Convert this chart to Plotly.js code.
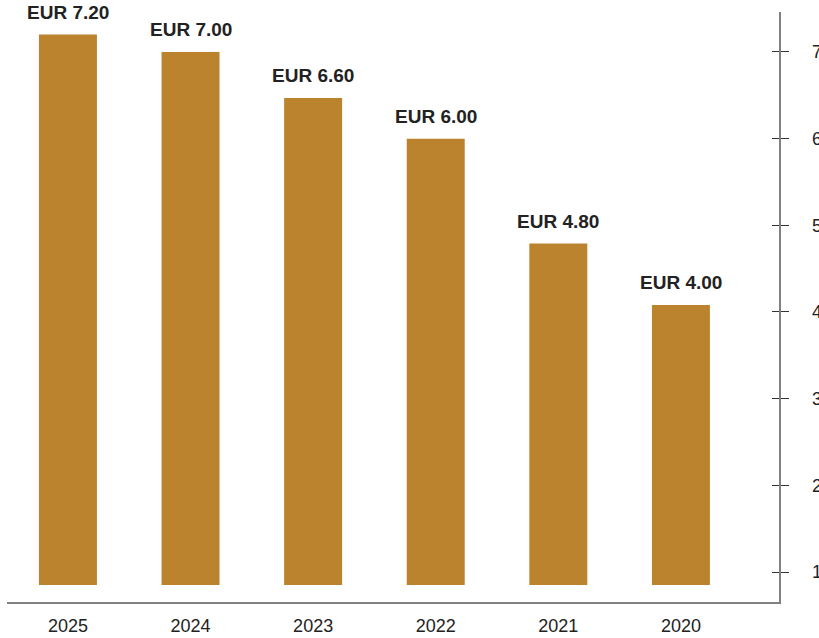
<!DOCTYPE html>
<html>
<head>
<meta charset="utf-8">
<script src="https://cdn.plot.ly/plotly-3.0.1.min.js"></script>
<style>html,body{margin:0;padding:0;background:#fff;}#chart{width:819px;height:638px;}</style>
</head>
<body>
<div id="chart"></div>
<script>
const years = ['2025', '2024', '2023', '2022', '2021', '2020'];
const barValues = [7.2, 7.0, 6.47, 6.0, 4.79, 4.08];
const barLabels = ['EUR 7.20', 'EUR 7.00', 'EUR 6.60', 'EUR 6.00', 'EUR 4.80', 'EUR 4.00'];
const barBase = 0.85;
const yTicks = [1, 2, 3, 4, 5, 6, 7];

const barColor = '#BC832E';
const font = 'Liberation Sans, Arial, sans-serif';

const trace = {
  type: 'bar',
  x: years,
  y: barValues.map(v => v - barBase),
  base: barBase,
  marker: {color: barColor},
  hoverinfo: 'skip'
};

const tickHelper = {
  type: 'scatter',
  mode: 'markers',
  x: years,
  y: barValues,
  yaxis: 'y2',
  marker: {size: 1, opacity: 0},
  hoverinfo: 'skip',
  showlegend: false
};

// category axis: annotation x given as the category's serial index
const annotations = years.map((yr, i) => ({
  x: i,
  y: barValues[i],
  xref: 'x',
  yref: 'y',
  text: '<b>' + barLabels[i] + '</b>',
  showarrow: false,
  yanchor: 'bottom',
  yshift: 10,
  font: {family: font, size: 19, color: '#222222'}
}));

const layout = {
  width: 819,
  height: 638,
  margin: {l: 7, r: 40, t: 12, b: 36},
  paper_bgcolor: '#ffffff',
  plot_bgcolor: '#ffffff',
  showlegend: false,
  bargap: 0.527,
  font: {family: font, color: '#222222', size: 18},
  xaxis: {
    type: 'category',
    range: [-0.497, 5.8],
    showgrid: false,
    zeroline: false,
    showline: true,
    linecolor: '#808080',
    linewidth: 1.5,
    ticks: '',
    ticklabelstandoff: 7,
    tickfont: {family: font, size: 18, color: '#222222'},
    fixedrange: true
  },
  yaxis: {
    side: 'right',
    range: [0.654, 7.461],
    tickvals: yTicks,
    showgrid: false,
    zeroline: false,
    showline: true,
    linecolor: '#808080',
    linewidth: 1.5,
    ticks: 'outside',
    ticklen: 8,
    tickcolor: '#333333',
    tickwidth: 1,
    ticklabelstandoff: 20,
    tickfont: {family: font, size: 18, color: '#222222'},
    fixedrange: true
  },
  yaxis2: {
    overlaying: 'y',
    side: 'right',
    range: [0.654, 7.461],
    tickvals: yTicks,
    showgrid: false,
    zeroline: false,
    showline: false,
    ticks: 'inside',
    ticklen: 7,
    tickcolor: '#333333',
    tickwidth: 1,
    showticklabels: false,
    fixedrange: true
  },
  annotations: annotations
};

Plotly.newPlot('chart', [trace, tickHelper], layout, {displayModeBar: false, staticPlot: true});
</script>
</body>
</html>
